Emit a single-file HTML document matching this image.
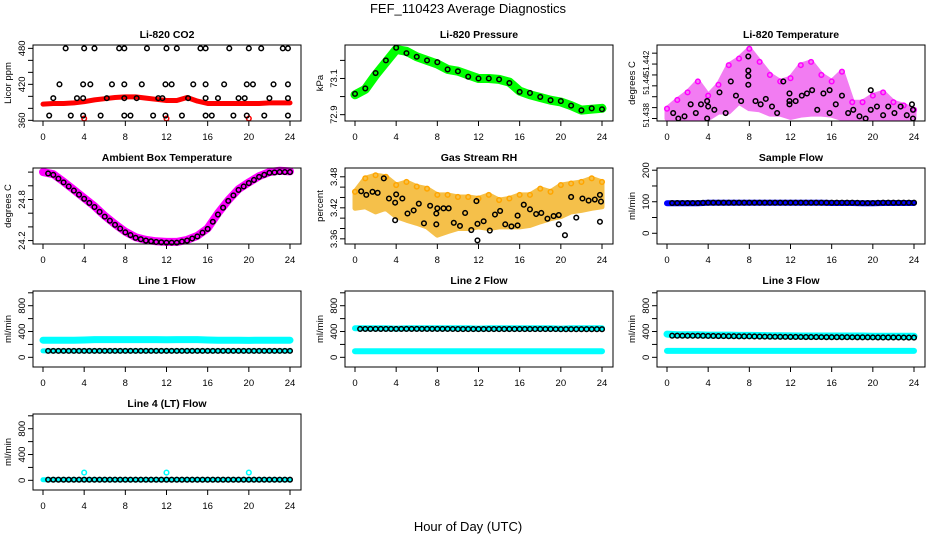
<!DOCTYPE html>
<html><head><meta charset="utf-8"><style>
html,body{margin:0;padding:0;background:#fff;}
svg{display:block;font-family:"Liberation Sans",sans-serif;}
</style></head><body>
<svg id="chart" width="936" height="540" viewBox="0 0 936 540" xmlns="http://www.w3.org/2000/svg">
<text x="468" y="13" text-anchor="middle" font-size="13">FEF_110423  Average Diagnostics</text>
<text x="468" y="531" text-anchor="middle" font-size="13">Hour of Day (UTC)</text>
</svg>
<script>
// ---------- data ----------
const hours = [0,1,2,3,4,5,6,7,8,9,10,11,12,13,14,15,16,17,18,19,20,21,22,23,24];
const co2Band = [387,388,388,389,391,394,396,398,399,399,397,395,393,393,398,392,388,388,388,388,388,388,389,389,389];
const co2Row480 = [2.2,4,5,7.4,7.9,10.1,12,13,15.3,15.8,18.1,20,21.2,23.3,23.8];
const co2Row420 = [1.6,3.9,4.6,6.7,7.9,9.6,11.9,12.5,14.6,15.8,17.6,19.8,20.4,22.4,23.8];
const co2Row397 = [1,3.3,3.9,6.2,7.9,9.1,11.2,11.6,14.1,15.8,17,19,19.6,22,23.8];
const co2Row368 = [0.6,2.7,3.9,5.6,7.9,8.5,10.7,11.9,13.5,15.8,16.4,18.5,19.8,21.5,23.8];
const co2RedHours = [4,12,20];
const co2RedValue = [363,363,363];
const pressBand = [73.01,73.04,73.12,73.19,73.26,73.25,73.22,73.2,73.18,73.15,73.14,73.12,73.1,73.1,73.095,73.08,73.03,73.01,72.995,72.98,72.97,72.95,72.925,72.93,72.935];
const pressBlack = [73.015,73.045,73.13,73.2,73.27,73.24,73.22,73.2,73.19,73.15,73.14,73.11,73.1,73.1,73.095,73.075,73.026,73.02,72.998,72.98,72.975,72.95,72.924,72.935,72.93];
const tempHigh = [51.4379,51.4387,51.4394,51.4404,51.4391,51.4401,51.4419,51.4425,51.4434,51.4422,51.4410,51.4404,51.4407,51.4419,51.4422,51.4410,51.4404,51.4413,51.4385,51.4385,51.4391,51.4394,51.4385,51.4382,51.4378];
const tempLow = [51.4370,51.4370,51.4370,51.4370,51.4370,51.4376,51.4376,51.4385,51.4379,51.4378,51.4374,51.4374,51.4371,51.4373,51.4374,51.4374,51.4373,51.4370,51.4370,51.4370,51.4370,51.4370,51.4370,51.4370,51.4370];
const tempBlackH = [0.6,1.1,1.7,2.3,2.8,3.3,3.9,3.9,4,4.6,5.1,5.7,6.2,6.7,7.2,7.9,7.9,7.9,7.9,8.6,9.1,9.6,10.2,10.7,11.3,11.9,11.9,11.9,12.5,13.1,13.6,14.1,14.6,15.2,15.8,15.8,16.4,17,17.6,18.1,18.7,19.3,19.8,19.8,20.4,21,21.5,22.1,22.7,23.3,23.8,23.9,23.9];
const tempBlackV = [51.4375,51.4370,51.4372,51.4383,51.4375,51.4383,51.4370,51.4386,51.4381,51.4378,51.4394,51.4375,51.4404,51.4391,51.4386,51.4401,51.4409,51.4414,51.4427,51.4386,51.4383,51.4388,51.4381,51.4375,51.4404,51.4383,51.4386,51.4393,51.4386,51.4391,51.4393,51.4396,51.4378,51.4393,51.4375,51.4396,51.4383,51.4391,51.4375,51.4378,51.4372,51.4370,51.4378,51.4396,51.4381,51.4373,51.4381,51.4375,51.4381,51.4373,51.4383,51.4370,51.4378];
const ambBand = [25.2,25.17,25.06,24.94,24.82,24.7,24.56,24.44,24.33,24.25,24.21,24.19,24.18,24.18,24.21,24.27,24.38,24.6,24.79,24.95,25.05,25.14,25.2,25.22,25.21];
const ambBlack = [25.2,25.16,25.05,24.93,24.81,24.69,24.55,24.43,24.32,24.24,24.2,24.18,24.17,24.17,24.2,24.26,24.37,24.58,24.78,24.94,25.04,25.13,25.19,25.2,25.2];
const rhHigh = [3.451,3.477,3.483,3.48,3.464,3.47,3.461,3.457,3.445,3.445,3.441,3.441,3.438,3.445,3.435,3.438,3.445,3.445,3.457,3.451,3.464,3.467,3.47,3.477,3.47];
const rhLow = [3.419,3.422,3.412,3.419,3.403,3.396,3.39,3.383,3.367,3.374,3.38,3.38,3.383,3.38,3.383,3.383,3.383,3.386,3.393,3.399,3.403,3.412,3.415,3.419,3.422];
const rhBlackH = [0.6,1.1,1.7,2.2,2.8,3.3,3.9,3.9,4,4.6,5.1,5.7,6.2,6.7,7.3,7.9,7.9,8,8.6,9.1,9.6,10.2,10.7,11.3,11.8,11.9,11.9,12.5,13.1,13.6,14.1,14.6,15.2,15.8,15.8,16.4,17,17.6,18.1,18.7,19.3,19.8,19.8,20.4,21,21.5,22.1,22.7,23.3,23.8,23.8,23.9];
const rhBlackV = [3.452,3.445,3.451,3.449,3.477,3.438,3.43,3.396,3.446,3.438,3.409,3.415,3.428,3.39,3.424,3.409,3.388,3.419,3.419,3.419,3.391,3.385,3.41,3.377,3.433,3.357,3.389,3.394,3.376,3.407,3.414,3.388,3.384,3.386,3.405,3.426,3.417,3.408,3.41,3.399,3.404,3.388,3.406,3.367,3.441,3.401,3.438,3.434,3.436,3.445,3.393,3.432];
const sampleBand = [95,95,95,95,97,97,97,97,97,97,97,97,97,97,97,97,96,96,96,95,95,96,96,96,96];
const sampleBlack = [96,96,96,96,97,97,97,97,97,97,97,97,97,97,97,97,97,97,97,96,96,97,97,97,97];
const l1High = [265,265,265,265,268,275,275,275,275,275,275,275,272,275,275,275,268,265,265,265,263,265,265,265,265];
const l1Low = [100,100,100,100,100,100,100,100,100,100,100,100,100,100,100,100,100,100,100,100,100,100,100,100,100];
const l1Black = [100,100,100,100,100,100,100,100,100,100,100,100,100,100,100,100,100,100,100,100,100,100,100,100,100];
const l2High = [450,450,450,450,445,450,450,450,450,450,450,450,445,450,450,450,450,450,450,450,445,450,450,450,450];
const l2Low = [95,95,95,95,95,95,95,95,95,95,95,95,95,95,95,95,95,95,95,95,95,95,95,95,95];
const l2Black = [440,440,440,440,440,440,440,440,440,440,438,438,438,438,438,438,438,438,438,438,436,436,436,436,436];
const l3High = [360,350,350,350,345,345,345,340,340,338,335,335,332,330,330,330,330,330,330,330,328,328,328,328,328];
const l3Low = [100,100,100,100,100,100,100,100,100,100,100,100,100,100,100,100,100,100,100,100,100,100,100,100,100];
const l3Black = [335,335,334,334,332,330,328,326,325,322,320,318,316,315,314,313,312,312,311,310,309,308,308,307,306];
const l4Band = [10,10,10,10,10,10,10,10,10,10,10,10,10,10,10,10,10,10,10,10,10,10,10,10,10];
const l4Black = [10,10,10,10,10,10,10,10,10,10,10,10,10,10,10,10,10,10,10,10,10,10,10,10,10];
const l4CyanH = [4,12,20];
const l4CyanV = [120,120,120];
const xTicks = [0,4,8,12,16,20,24];

// ---------- layout ----------
const NS = "http://www.w3.org/2000/svg";
const svg = document.getElementById('chart');
const colL = [33,345,657], rowT = [45,168,291,414], W = 268, H = 76;
function mk(tag, attrs, parent){ const e=document.createElementNS(NS,tag); for(const k in attrs) e.setAttribute(k,attrs[k]); (parent||svg).appendChild(e); return e; }

function panel(col,row,title,ylab,ymin,ymax,ticks,labels,name,labelFont){
  const L=colL[col], T=rowT[row], R=L+W, B=T+H;
  const g = mk('g',{});
  
  
  const p = {g,L,T,R,B,
    x:h=>L+10+h*(247/24),
    y:v=>B-(v-ymin)/(ymax-ymin)*H};
  const t = mk('text',{x:(L+R)/2,y:T-7,'text-anchor':'middle','font-size':10.5,'font-weight':'bold'},g);
  t.textContent=title;
  
  
  const yl = mk('text',{transform:`translate(${L-22},${(T+B)/2}) rotate(-90)`,'text-anchor':'middle','font-size':9.5},g);
  yl.textContent=ylab;
  
  
  ticks.forEach(v=>{ const yy=p.y(v); mk('line',{x1:L-5,x2:L,y1:yy,y2:yy,stroke:'#000'},g); });
  labels.forEach(s=>{
    const isObj = (typeof s === 'object');
    const txt = isObj ? s.t : s;
    const yy = p.y(isObj ? s.at : parseFloat(s));
    const lt=mk('text',{transform:`translate(${L-8},${yy}) rotate(-90)`,'text-anchor':'middle','font-size':labelFont||9.5},g);
    lt.textContent=txt;
    
    
  });
  mk('line',{x1:L,x2:L,y1:p.y(ticks[0]),y2:p.y(ticks[ticks.length-1]),stroke:'#000'},g);
  xTicks.forEach(h=>{ const xx=p.x(h); mk('line',{x1:xx,x2:xx,y1:B,y2:B+5,stroke:'#000'},g);
    const xt=mk('text',{x:xx,y:B+19,'text-anchor':'middle','font-size':9.5},g);
    xt.textContent=h;
    
    
  });
  p.data = mk('g',{},g);
  const box=mk('rect',{x:L,y:T,width:W,height:H,fill:'none',stroke:'#000'},g);
  
  
  return p;
}
function band(p,vals,color,w,name){
  const pts=hours.map((h,i)=>p.x(h).toFixed(1)+','+p.y(vals[i]).toFixed(1)).join(' ');
  const e=mk('polyline',{points:pts,fill:'none',stroke:color,'stroke-width':w,'stroke-linejoin':'round','stroke-linecap':'round'},p.data);
  
  
}
function area(p,hi,lo,color,name){
  const pts=hours.map((h,i)=>p.x(h).toFixed(1)+','+p.y(hi[i]).toFixed(1)).concat(hours.slice().reverse().map((h,j)=>{const i=hours.length-1-j;return p.x(h).toFixed(1)+','+p.y(lo[i]).toFixed(1);})).join(' ');
  const e=mk('polygon',{points:pts,fill:color,stroke:color,'stroke-width':5,'stroke-linejoin':'round'},p.data);
  
  
}
function circles(p,hs,vs,color,name,r){
  hs.forEach((h,i)=>{ const c=mk('circle',{cx:p.x(h),cy:p.y(vs[i]),r:r||2.3,fill:'none',stroke:color,'stroke-width':1.5},p.data);
    
    
  });
}
function chain(p,vals,color,name){
  for(let i=1;i<hours.length;i++){
    const h=hours[i];
    circles(p,[h-0.5],[(vals[i]+vals[i-1])/2],color,name);
    circles(p,[h],[vals[i]],color,name);
  }
}

// Panel 1: CO2
let p=panel(0,0,'Li-820 CO2','Licor ppm',358.9,485.6,[360,380,400,420,440,460,480],['360','420','480'],'co2');
band(p,co2Band,'#ff0000',5,'co2-series');
circles(p,co2RedHours,co2RedValue,'#ff0000','co2-red-point');
circles(p,co2Row480,co2Row480.map(()=>480),'#000','co2-point');
circles(p,co2Row420,co2Row420.map(()=>420),'#000','co2-point');
circles(p,co2Row397,co2Row397.map(()=>397),'#000','co2-point');
circles(p,co2Row368,co2Row368.map(()=>368),'#000','co2-point');

// Panel 2: Pressure
p=panel(1,0,'Li-820 Pressure','kPa',72.865,73.285,[72.9,73.0,73.1,73.2],['72.9','73.1'],'pressure');
band(p,pressBand,'#00ff00',9,'pressure-series');
circles(p,hours,pressBlack,'#000','pressure-point');

// Panel 3: Temperature
p=panel(2,0,'Li-820 Temperature','degrees C',51.43677,51.44375,[51.437,51.438,51.439,51.440,51.441,51.442,51.443],[{t:'51.438',at:51.4373},{t:'51.44',at:51.4401},{t:'51.442',at:51.4421}],'li820-temp',8);
area(p,tempHigh,tempLow,'#f27cf2','li820-temp-spread');
circles(p,hours,tempHigh,'#ff00ff','li820-temp-magenta-point');
circles(p,tempBlackH,tempBlackV,'#000','li820-temp-point');

// Panel 4: Ambient
p=panel(0,1,'Ambient Box Temperature','degrees C',24.15,25.26,[24.2,24.4,24.6,24.8,25.0,25.2],['24.2','24.8'],'ambient-temp');
band(p,ambBand,'#ff00ff',8,'ambient-temp-series');
chain(p,ambBlack,'#000','ambient-temp-point');

// Panel 5: RH
p=panel(1,1,'Gas Stream RH','percent',3.350,3.497,[3.36,3.38,3.40,3.42,3.44,3.46,3.48],['3.36','3.42','3.48'],'rh');
area(p,rhHigh,rhLow,'#f5c04a','rh-spread');
circles(p,hours,rhHigh,'#ffa500','rh-orange-point');
circles(p,rhBlackH,rhBlackV,'#000','rh-point');

// Panel 6: Sample flow
p=panel(2,1,'Sample Flow','ml/min',-34,207,[0,50,100,150,200],['0','100','200'],'sample-flow');
band(p,sampleBand,'#0000ff',6,'sample-flow-series');
chain(p,sampleBlack,'#000','sample-flow-point');

const flowTicks=[0,200,400,600,800,1000], flowLabels=['0','400','800'];
// Line 1
p=panel(0,2,'Line 1 Flow','ml/min',-150,1028,flowTicks,flowLabels,'line1-flow');
band(p,l1High,'#00ffff',7,'line1-flow-cyan-high');
band(p,l1Low,'#00ffff',5,'line1-flow-cyan-low');
chain(p,l1Black,'#000','line1-flow-point');
// Line 2
p=panel(1,2,'Line 2 Flow','ml/min',-150,1028,flowTicks,flowLabels,'line2-flow');
band(p,l2High,'#00ffff',6,'line2-flow-cyan-high');
band(p,l2Low,'#00ffff',6,'line2-flow-cyan-low');
chain(p,l2Black,'#000','line2-flow-point');
// Line 3
p=panel(2,2,'Line 3 Flow','ml/min',-150,1028,flowTicks,flowLabels,'line3-flow');
band(p,l3High,'#00ffff',7,'line3-flow-cyan-high');
band(p,l3Low,'#00ffff',6,'line3-flow-cyan-low');
chain(p,l3Black,'#000','line3-flow-point');
// Line 4
p=panel(0,3,'Line 4 (LT) Flow','ml/min',-150,1028,flowTicks,flowLabels,'line4-flow');
band(p,l4Band,'#00ffff',5,'line4-flow-cyan');
circles(p,l4CyanH,l4CyanV,'#00ffff','line4-flow-cyan-point');
chain(p,l4Black,'#000','line4-flow-point');
</script>
</body></html>
